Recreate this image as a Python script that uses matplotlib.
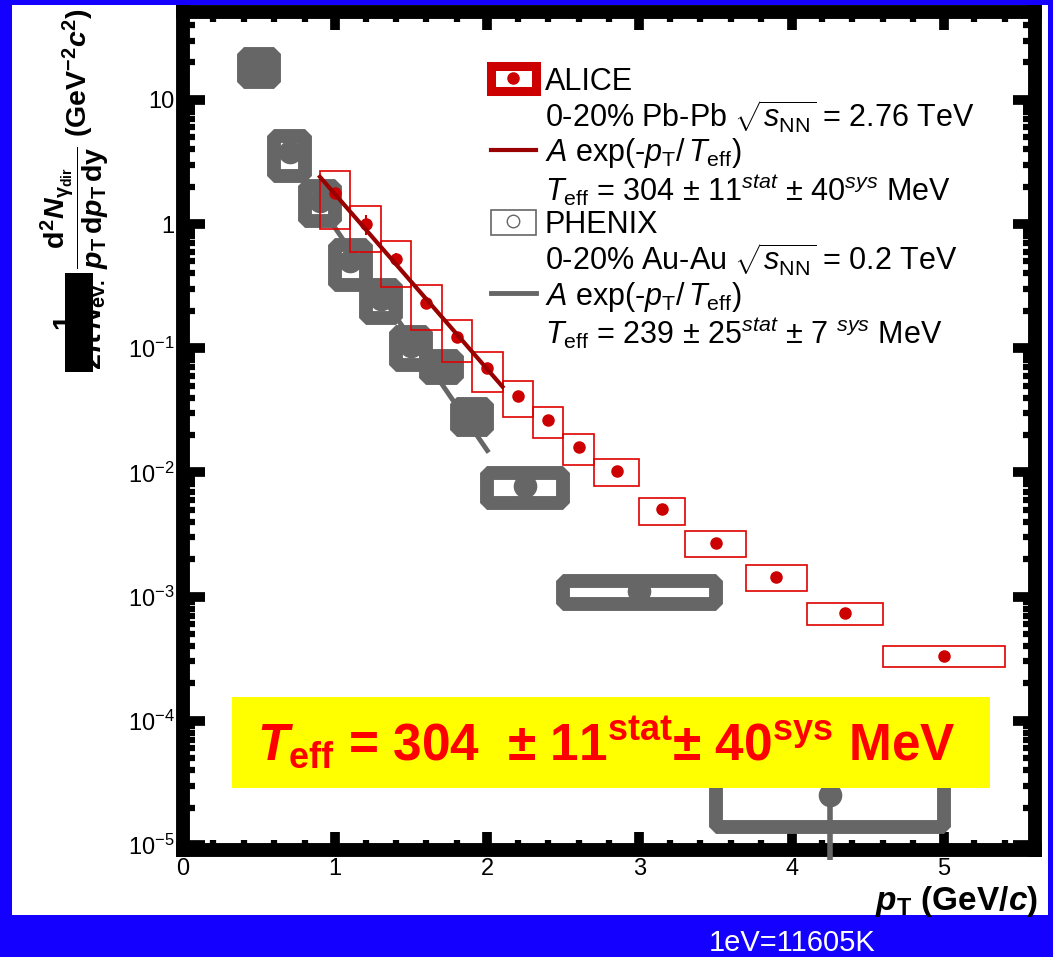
import math
import matplotlib
matplotlib.use('Agg')
import matplotlib.pyplot as plt
from matplotlib.patches import Rectangle, Patch
from matplotlib.lines import Line2D
from matplotlib.ticker import LogLocator, MultipleLocator, FuncFormatter, NullFormatter
from matplotlib import font_manager

W, H = 1053, 957

# ALICE direct photons, 0-20% Pb-Pb
alice_pt = [1.0, 1.2, 1.4, 1.6, 1.8, 2.0, 2.2, 2.4, 2.6, 2.85, 3.15, 3.5, 3.9, 4.35, 5.0]
alice_dx = [0.1, 0.1, 0.1, 0.1, 0.1, 0.1, 0.1, 0.1, 0.1, 0.15, 0.15, 0.2, 0.2, 0.25, 0.4]
alice_y = [1.78, 1.0, 0.522, 0.231, 0.123, 0.069, 0.041, 0.0262, 0.0159, 0.0102,
           0.00503, 0.00272, 0.00145, 0.000743, 0.000334]
alice_sys = [0.87, 0.40, 0.21, 0.091, 0.045, 0.025, 0.0133, 0.0073, 0.0044, 0.0025,
             0.00124, 0.00064, 0.00034, 0.00015, 0.000064]
alice_stat = [0.15, 0.18, 0.06, 0.02, 0.008, 0.004, 0.002, 0.001, 0.0006, 0.0003,
              0.0001, 0.00005, 0.00003, 0.00001, 0.000005]

# PHENIX direct photons, 0-20% Au-Au
phenix_pt = [0.5, 0.7, 0.9, 1.1, 1.3, 1.5, 1.7, 1.9, 2.25, 3.0, 4.25]
phenix_dx = [0.1, 0.1, 0.1, 0.1, 0.1, 0.1, 0.1, 0.1, 0.25, 0.5, 0.75]
phenix_y = [18.5, 3.8, 1.54, 0.50, 0.25, 0.104, 0.0717, 0.0286, 0.0078, 0.00110, 2.5e-5]
phenix_sys = [4.7, 1.35, 0.48, 0.18, 0.074, 0.031, 0.0144, 0.0068, 0.0021, 0.00023, 1.1e-5]
phenix_stat_lo = [0.8, 0.3, 0.15, 0.05, 0.03, 0.012, 0.008, 0.004, 0.0015, 0.0002, 1.74e-5]
phenix_stat_hi = [0.8, 0.3, 0.15, 0.05, 0.03, 0.012, 0.008, 0.004, 0.0015, 0.0002, 0.3e-5]

# exponential fits (end points)
alice_fit_pt = [0.9, 2.1]
alice_fit_y = [2.4, 0.049]
phenix_fit_pt = [1.0, 2.0]
phenix_fit_y = [0.93, 0.015]

legend_labels = [
    "ALICE",
    r"0-20% Pb-Pb $\sqrt{s_{\mathrm{NN}}}$ = 2.76 TeV",
    r"$A$ exp(-$p_{\mathrm{T}}$/$\,T_{\mathrm{eff}}$)",
    r"$T_{\mathrm{eff}}$ = 304 $\pm$ 11$^{stat}$ $\pm$ 40$^{sys}$ MeV",
    "PHENIX",
    r"0-20% Au-Au $\sqrt{s_{\mathrm{NN}}}$ = 0.2 TeV",
    r"$A$ exp(-$p_{\mathrm{T}}$/$\,T_{\mathrm{eff}}$)",
    r"$T_{\mathrm{eff}}$ = 239 $\pm$ 25$^{stat}$ $\pm$ 7 $^{sys}$ MeV",
]

RED = '#cc0000'
BOXRED = '#e00000'
DARKRED = '#990000'
GRAY = '#666666'
BLUE = '#1400ff'

names = {f.name for f in font_manager.fontManager.ttflist}
narrow = 'Liberation Sans Narrow' if 'Liberation Sans Narrow' in names else 'Liberation Sans'

plt.rcParams['font.family'] = 'Liberation Sans'
plt.rcParams['mathtext.fontset'] = 'custom'
plt.rcParams['mathtext.rm'] = 'Liberation Sans'
plt.rcParams['mathtext.it'] = 'Liberation Sans:italic'
plt.rcParams['mathtext.bf'] = 'Liberation Sans:bold'
plt.rcParams['mathtext.bfit'] = 'Liberation Sans:bold:italic'
plt.rcParams['mathtext.sf'] = narrow + ':bold:italic'

fig = plt.figure(figsize=(W / 100, H / 100), dpi=100, facecolor=BLUE)
fig.add_artist(Rectangle((12 / W, 1 - 915 / H), 1036 / W, 910 / H,
                         transform=fig.transFigure, facecolor='white',
                         edgecolor='none', zorder=0))

ax = fig.add_axes([183 / W, 1 - 850 / H, 852 / W, 838 / H])
ax.set_yscale('log')
ax.set_xlim(0, 5.6)
ax.set_ylim(9.1e-6, 51)

# PHENIX systematic boxes
for x, dx, y, e in zip(phenix_pt, phenix_dx, phenix_y, phenix_sys):
    ax.add_patch(Rectangle((x - dx, y - e), 2 * dx, 2 * e, fill=False,
                           edgecolor=GRAY, linewidth=10, joinstyle='bevel', zorder=2))
ax.errorbar(phenix_pt, phenix_y, yerr=[phenix_stat_lo, phenix_stat_hi], fmt='o',
            color=GRAY, ms=16, elinewidth=4, capsize=0, zorder=3, clip_on=False)
ax.plot(phenix_fit_pt, phenix_fit_y, color=GRAY, lw=3.5, zorder=2)

# ALICE systematic boxes
for x, dx, y, e in zip(alice_pt, alice_dx, alice_y, alice_sys):
    ax.add_patch(Rectangle((x - dx, y - e), 2 * dx, 2 * e, fill=False,
                           edgecolor=BOXRED, linewidth=1.2, zorder=4))
ax.errorbar(alice_pt, alice_y, yerr=alice_stat, fmt='o', color=RED, ms=8,
            elinewidth=1.5, capsize=0, zorder=5)
ax.plot(alice_fit_pt, alice_fit_y, color=DARKRED, lw=3, zorder=6)

# axes styling
for s in ax.spines.values():
    s.set_linewidth(10)
ax.xaxis.set_major_locator(MultipleLocator(1))
ax.xaxis.set_minor_locator(MultipleLocator(0.2))
ax.yaxis.set_major_locator(LogLocator(base=10, numticks=20))
ax.yaxis.set_minor_locator(LogLocator(base=10, subs=range(2, 10), numticks=20))
ax.yaxis.set_minor_formatter(NullFormatter())


def ylab(v, pos):
    if v >= 10:
        return "10"
    if v >= 1:
        return "1"
    return r"$\mathdefault{10^{%d}}$" % round(math.log10(v))


ax.yaxis.set_major_formatter(FuncFormatter(ylab))
ax.tick_params(which='both', direction='in', top=True, right=True, labelsize=17)
ax.tick_params(axis='y', which='major', length=16, width=7, pad=6)
ax.tick_params(axis='y', which='minor', length=8.5, width=4.5)
ax.tick_params(axis='x', which='major', length=13, width=7, pad=6)
ax.tick_params(axis='x', which='minor', length=7.5, width=4.5)

ax.set_xlabel(r"$\mathbfit{p}_{\mathbf{T}}$ (GeV/$\mathbfit{c}$)", fontsize=24,
              fontweight='bold', loc='right')
ax.xaxis.set_label_coords(1.003, -0.04)

fig.text(75 / W, 1 - 9 / H,
         r"$\mathbf{\dfrac{1}{2\pi\,\mathbfit{N}_{ev.}}\,\dfrac{d^2\mathbfit{N}_{\gamma_{dir}}}"
         r"{\mathbfit{p}_T\,d\mathbfit{p}_T\,dy}}$ $\mathbf{(GeV^{-2}\mathbfit{c}^2)}$",
         rotation=90, ha='center', va='top', fontsize=20.5, fontweight='bold')
fig.add_artist(Rectangle((65 / W, 1 - 372 / H), 28 / W, 99 / H,
                         transform=fig.transFigure, facecolor='black',
                         edgecolor='none', zorder=10))

# legend
empty = Line2D([], [], ls='', marker='')
h_alice = (Patch(facecolor='white', edgecolor=RED, linewidth=6.5),
           Line2D([], [], ls='', marker='o', color=RED, ms=8))
h_alice_fit = Line2D([], [], color=DARKRED, lw=3)
h_phenix = (Patch(facecolor='white', edgecolor=GRAY, linewidth=1.2),
            Line2D([], [], ls='', marker='o', mfc='white', mec=GRAY, mew=1, ms=9))
h_phenix_fit = Line2D([], [], color=GRAY, lw=3.5)
handles = [h_alice, empty, h_alice_fit, empty, h_phenix, empty, h_phenix_fit, empty]
ax.legend(handles, legend_labels, loc='upper left', bbox_to_anchor=(0.361, 0.935),
          frameon=False, fontsize=22, borderpad=0, borderaxespad=0,
          handlelength=1.5, handleheight=0.88, handletextpad=0.27,
          labelspacing=0.06)

# highlighted result
fig.add_artist(Rectangle((232 / W, 1 - 788 / H), 758 / W, 91 / H,
                         transform=fig.transFigure, facecolor='#ffff00',
                         edgecolor='none', zorder=10))
fig.text(606 / W, 1 - 743 / H,
         r"$\mathsf{T}_{\mathdefault{eff}}$ = 304  $\mathdefault{\pm}$ 11$^{\mathdefault{stat}}$"
         r"$\mathdefault{\pm}$ 40$^{\mathdefault{sys}}$ MeV",
         fontfamily=narrow, fontweight='bold', fontsize=37, color='#ff0000',
         ha='center', va='center', zorder=11)

fig.text(709 / W, 1 - 943 / H, "1eV=11605K", fontfamily=narrow, fontsize=21,
         color='white', ha='left', va='center')

fig.savefig('out.png', dpi=100, facecolor=BLUE)
